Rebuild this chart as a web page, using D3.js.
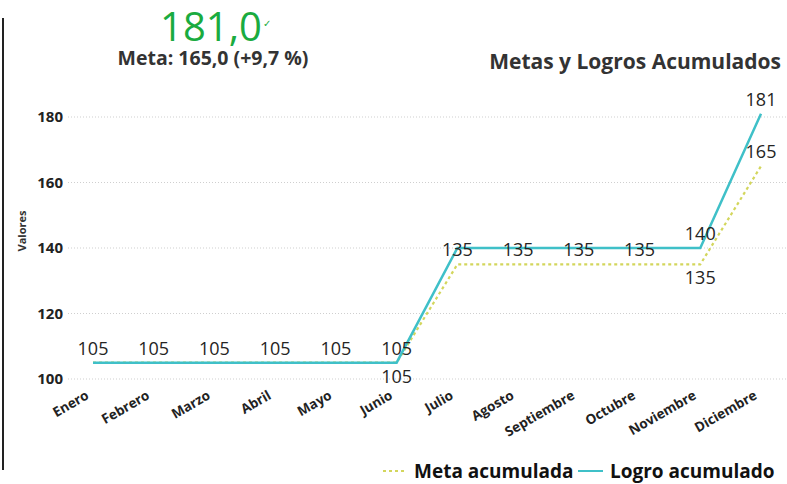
<!DOCTYPE html>
<html>
<head>
<meta charset="utf-8">
<script src="https://cdn.jsdelivr.net/npm/d3@7"></script>
<style>
  body { margin: 0; background: #fff; }
  svg { display: block; font-family: "Open Sans", sans-serif; }
</style>
</head>
<body>
<svg width="787" height="484"></svg>
<script>
const meses = ["Enero", "Febrero", "Marzo", "Abril", "Mayo", "Junio", "Julio", "Agosto", "Septiembre", "Octubre", "Noviembre", "Diciembre"];
const metaAcum = [105, 105, 105, 105, 105, 105, 135, 135, 135, 135, 135, 165];
const logroAcum = [105, 105, 105, 105, 105, 105, 140, 140, 140, 140, 140, 181];
// where each data label goes (Power BI hides the ones that collide)
const metaLabelPos = ["", "", "", "", "", "below", "above", "above", "above", "above", "below", "above"];
const logroLabelPos = ["above", "above", "above", "above", "above", "above", "", "", "", "", "above", "above"];
const yTicks = [100, 120, 140, 160, 180];
const kpiValor = "181,0";
const kpiMeta = "Meta: 165,0 (+9,7 %)";

const svg = d3.select("svg");
const colorLogro = "#3fc0c8";
const colorMeta = "#d3d65c";

// left border line
svg.append("line").attr("x1", 3).attr("x2", 3).attr("y1", 18).attr("y2", 470)
  .attr("stroke", "#222").attr("stroke-width", 2);

// KPI card
svg.append("text").attr("x", 211).attr("y", 41).attr("text-anchor", "middle")
  .attr("fill", "#1aab40").style("font-size", "40px")
  .text(kpiValor);
svg.append("text").attr("x", 263).attr("y", 27).attr("fill", "#1aab40")
  .style("font-size", "10px").text("✓");
svg.append("text").attr("x", 213).attr("y", 65).attr("text-anchor", "middle")
  .attr("fill", "#333").style("font-size", "19.5px").style("font-weight", "bold")
  .text(kpiMeta);

// title
svg.append("text").attr("x", 781).attr("y", 69).attr("text-anchor", "end")
  .attr("fill", "#333").style("font-size", "21px").style("font-weight", "bold")
  .text("Metas y Logros Acumulados");

const x = d3.scalePoint().domain(meses).range([93, 761]);
const y = d3.scaleLinear().domain([100, 180]).range([379, 117]);

// grid
svg.append("g").selectAll("line").data(yTicks).join("line")
  .attr("x1", 68).attr("x2", 787)
  .attr("y1", d => y(d)).attr("y2", d => y(d))
  .attr("stroke", "#cfcfcf").attr("stroke-width", 1).attr("stroke-dasharray", "1,2");

// y axis labels
const yAxis = d3.axisLeft(y).tickValues(yTicks).tickSize(0).tickPadding(0);
svg.append("g").attr("transform", "translate(63,0)").call(yAxis)
  .call(g => g.select(".domain").remove())
  .selectAll("text")
  .attr("fill", "#222").style("font-size", "15px").style("font-weight", "bold")
  .style("font-family", "'Open Sans', sans-serif");

svg.append("text").attr("transform", "translate(26,231) rotate(-90)")
  .attr("text-anchor", "middle").attr("fill", "#333")
  .style("font-size", "11px").style("font-weight", "bold").text("Valores");

// x axis labels
const xAxis = d3.axisBottom(x).tickSize(0).tickPadding(0);
svg.append("g").attr("transform", "translate(0,386)").call(xAxis)
  .call(g => g.select(".domain").remove())
  .selectAll("text")
  .attr("text-anchor", "end").attr("dy", "0.35em")
  .attr("transform", "translate(-6,8) rotate(-30)")
  .attr("fill", "#222").style("font-size", "13.5px").style("font-weight", "bold")
  .style("font-family", "'Open Sans', sans-serif");

// lines
const line = d3.line().x((d, i) => x(meses[i])).y(d => y(d));
svg.append("path").datum(metaAcum).attr("d", line)
  .attr("fill", "none").attr("stroke", colorMeta).attr("stroke-width", 2.2)
  .attr("stroke-dasharray", "3,3");
svg.append("path").datum(logroAcum).attr("d", line)
  .attr("fill", "none").attr("stroke", colorLogro).attr("stroke-width", 2.5);

// data labels
function labels(values, pos) {
  const items = values.map((v, i) => ({ v, mes: meses[i], pos: pos[i] }))
    .filter(d => d.pos !== "");
  svg.append("g").selectAll("text").data(items).join("text")
    .attr("x", d => x(d.mes))
    .attr("y", d => d.pos === "above" ? y(d.v) - 8 : y(d.v) + 20)
    .attr("text-anchor", "middle").attr("fill", "#252423")
    .style("font-size", "18px")
    .text(d => d.v);
}
labels(metaAcum, metaLabelPos);
labels(logroAcum, logroLabelPos);

// legend
const lg = svg.append("g").attr("transform", "translate(0,471)");
lg.append("line").attr("x1", 383).attr("x2", 405).attr("y1", 0).attr("y2", 0)
  .attr("stroke", colorMeta).attr("stroke-width", 2).attr("stroke-dasharray", "3,3");
lg.append("text").attr("x", 414).attr("y", 7).attr("fill", "#111")
  .style("font-size", "19px").style("font-weight", "bold").text("Meta acumulada");
lg.append("line").attr("x1", 578).attr("x2", 603).attr("y1", 0).attr("y2", 0)
  .attr("stroke", colorLogro).attr("stroke-width", 2);
lg.append("text").attr("x", 610).attr("y", 7).attr("fill", "#111")
  .style("font-size", "19px").style("font-weight", "bold").text("Logro acumulado");
</script>
</body>
</html>
